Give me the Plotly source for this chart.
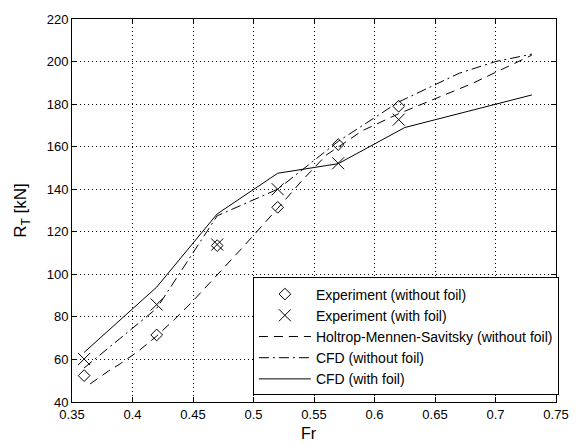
import plotly.graph_objects as go

# Experimental data
fr_exp = [0.36, 0.42, 0.47, 0.52, 0.57, 0.62]
rt_exp_nofoil = [52.4, 71.5, 113.5, 131.5, 161.0, 179.0]
rt_exp_foil = [60.2, 85.8, 114.0, 140.0, 152.2, 172.7]

# Holtrop-Mennen-Savitsky (without foil)
fr_hms = [0.365, 0.38, 0.39, 0.405, 0.42, 0.435, 0.45, 0.47, 0.49, 0.52, 0.54, 0.56, 0.59, 0.62, 0.68, 0.73]
rt_hms = [48.5, 54.5, 58.0, 64.0, 71.0, 79.0, 87.5, 99.5, 112.0, 131.0, 144.0, 156.0, 167.5, 175.5, 189.5, 203.0]

# CFD (without foil)
fr_cfd_nofoil = [0.36, 0.42, 0.47, 0.52, 0.57, 0.62, 0.67, 0.70, 0.73]
rt_cfd_nofoil = [56.0, 84.0, 127.5, 140.0, 162.5, 181.0, 194.5, 200.0, 203.5]

# CFD (with foil)
fr_cfd_foil = [0.36, 0.42, 0.47, 0.52, 0.57, 0.625, 0.73]
rt_cfd_foil = [63.3, 94.0, 128.4, 147.5, 152.0, 169.0, 184.3]

x_ticks = [0.35, 0.4, 0.45, 0.5, 0.55, 0.6, 0.65, 0.7, 0.75]
x_tick_text = ["0.35", "0.4", "0.45", "0.5", "0.55", "0.6", "0.65", "0.7", "0.75"]
y_ticks = [40, 60, 80, 100, 120, 140, 160, 180, 200, 220]

FONT = "Liberation Sans, Arial, sans-serif"

fig = go.Figure()
fig.add_trace(go.Scatter(
    x=fr_exp, y=rt_exp_nofoil, mode="markers", name="Experiment (without foil)",
    marker=dict(symbol="diamond-open", size=9, color="black", line=dict(width=1, color="black"))))
fig.add_trace(go.Scatter(
    x=fr_exp, y=rt_exp_foil, mode="markers", name="Experiment (with foil)",
    marker=dict(symbol="x-thin-open", size=12, color="black", line=dict(width=1, color="black"))))
fig.add_trace(go.Scatter(
    x=fr_hms, y=rt_hms, mode="lines", name="Holtrop-Mennen-Savitsky (without foil)",
    line=dict(color="black", width=1, dash="9px,6px")))
fig.add_trace(go.Scatter(
    x=fr_cfd_nofoil, y=rt_cfd_nofoil, mode="lines", name="CFD (without foil)",
    line=dict(color="black", width=1, dash="10px,4px,2px,4px")))
fig.add_trace(go.Scatter(
    x=fr_cfd_foil, y=rt_cfd_foil, mode="lines", name="CFD (with foil)",
    line=dict(color="black", width=1)))

axis_common = dict(
    showline=True, linecolor="black", linewidth=1, mirror="ticks",
    ticks="inside", ticklen=5, tickcolor="black",
    showgrid=True, gridcolor="black", gridwidth=1, griddash="1px,3px",
    zeroline=False, tickfont=dict(family=FONT, size=13, color="black"),
)

fig.update_xaxes(range=[0.35, 0.75], tickvals=x_ticks, ticktext=x_tick_text, **axis_common)
fig.update_yaxes(range=[40, 220], tickvals=y_ticks,
                 title=dict(text="R<sub>T</sub> [kN]", font=dict(family=FONT, size=17, color="black"), standoff=15),
                 **axis_common)

fig.add_annotation(text="Fr", xref="paper", yref="paper", x=0.49, y=-0.081,
                   xanchor="center", yanchor="middle", showarrow=False,
                   font=dict(family=FONT, size=16, color="black"))

fig.update_layout(
    width=581, height=446,
    margin=dict(l=72, r=15, t=15, b=44),
    paper_bgcolor="white", plot_bgcolor="white",
    font=dict(family=FONT, size=13, color="black"),
    legend=dict(x=1.006, y=0.017, xanchor="right", yanchor="bottom",
                bgcolor="white", bordercolor="black", borderwidth=1,
                itemwidth=52,
                font=dict(family=FONT, size=14, color="black")),
    showlegend=True,
)

fig.write_html("out.html")
